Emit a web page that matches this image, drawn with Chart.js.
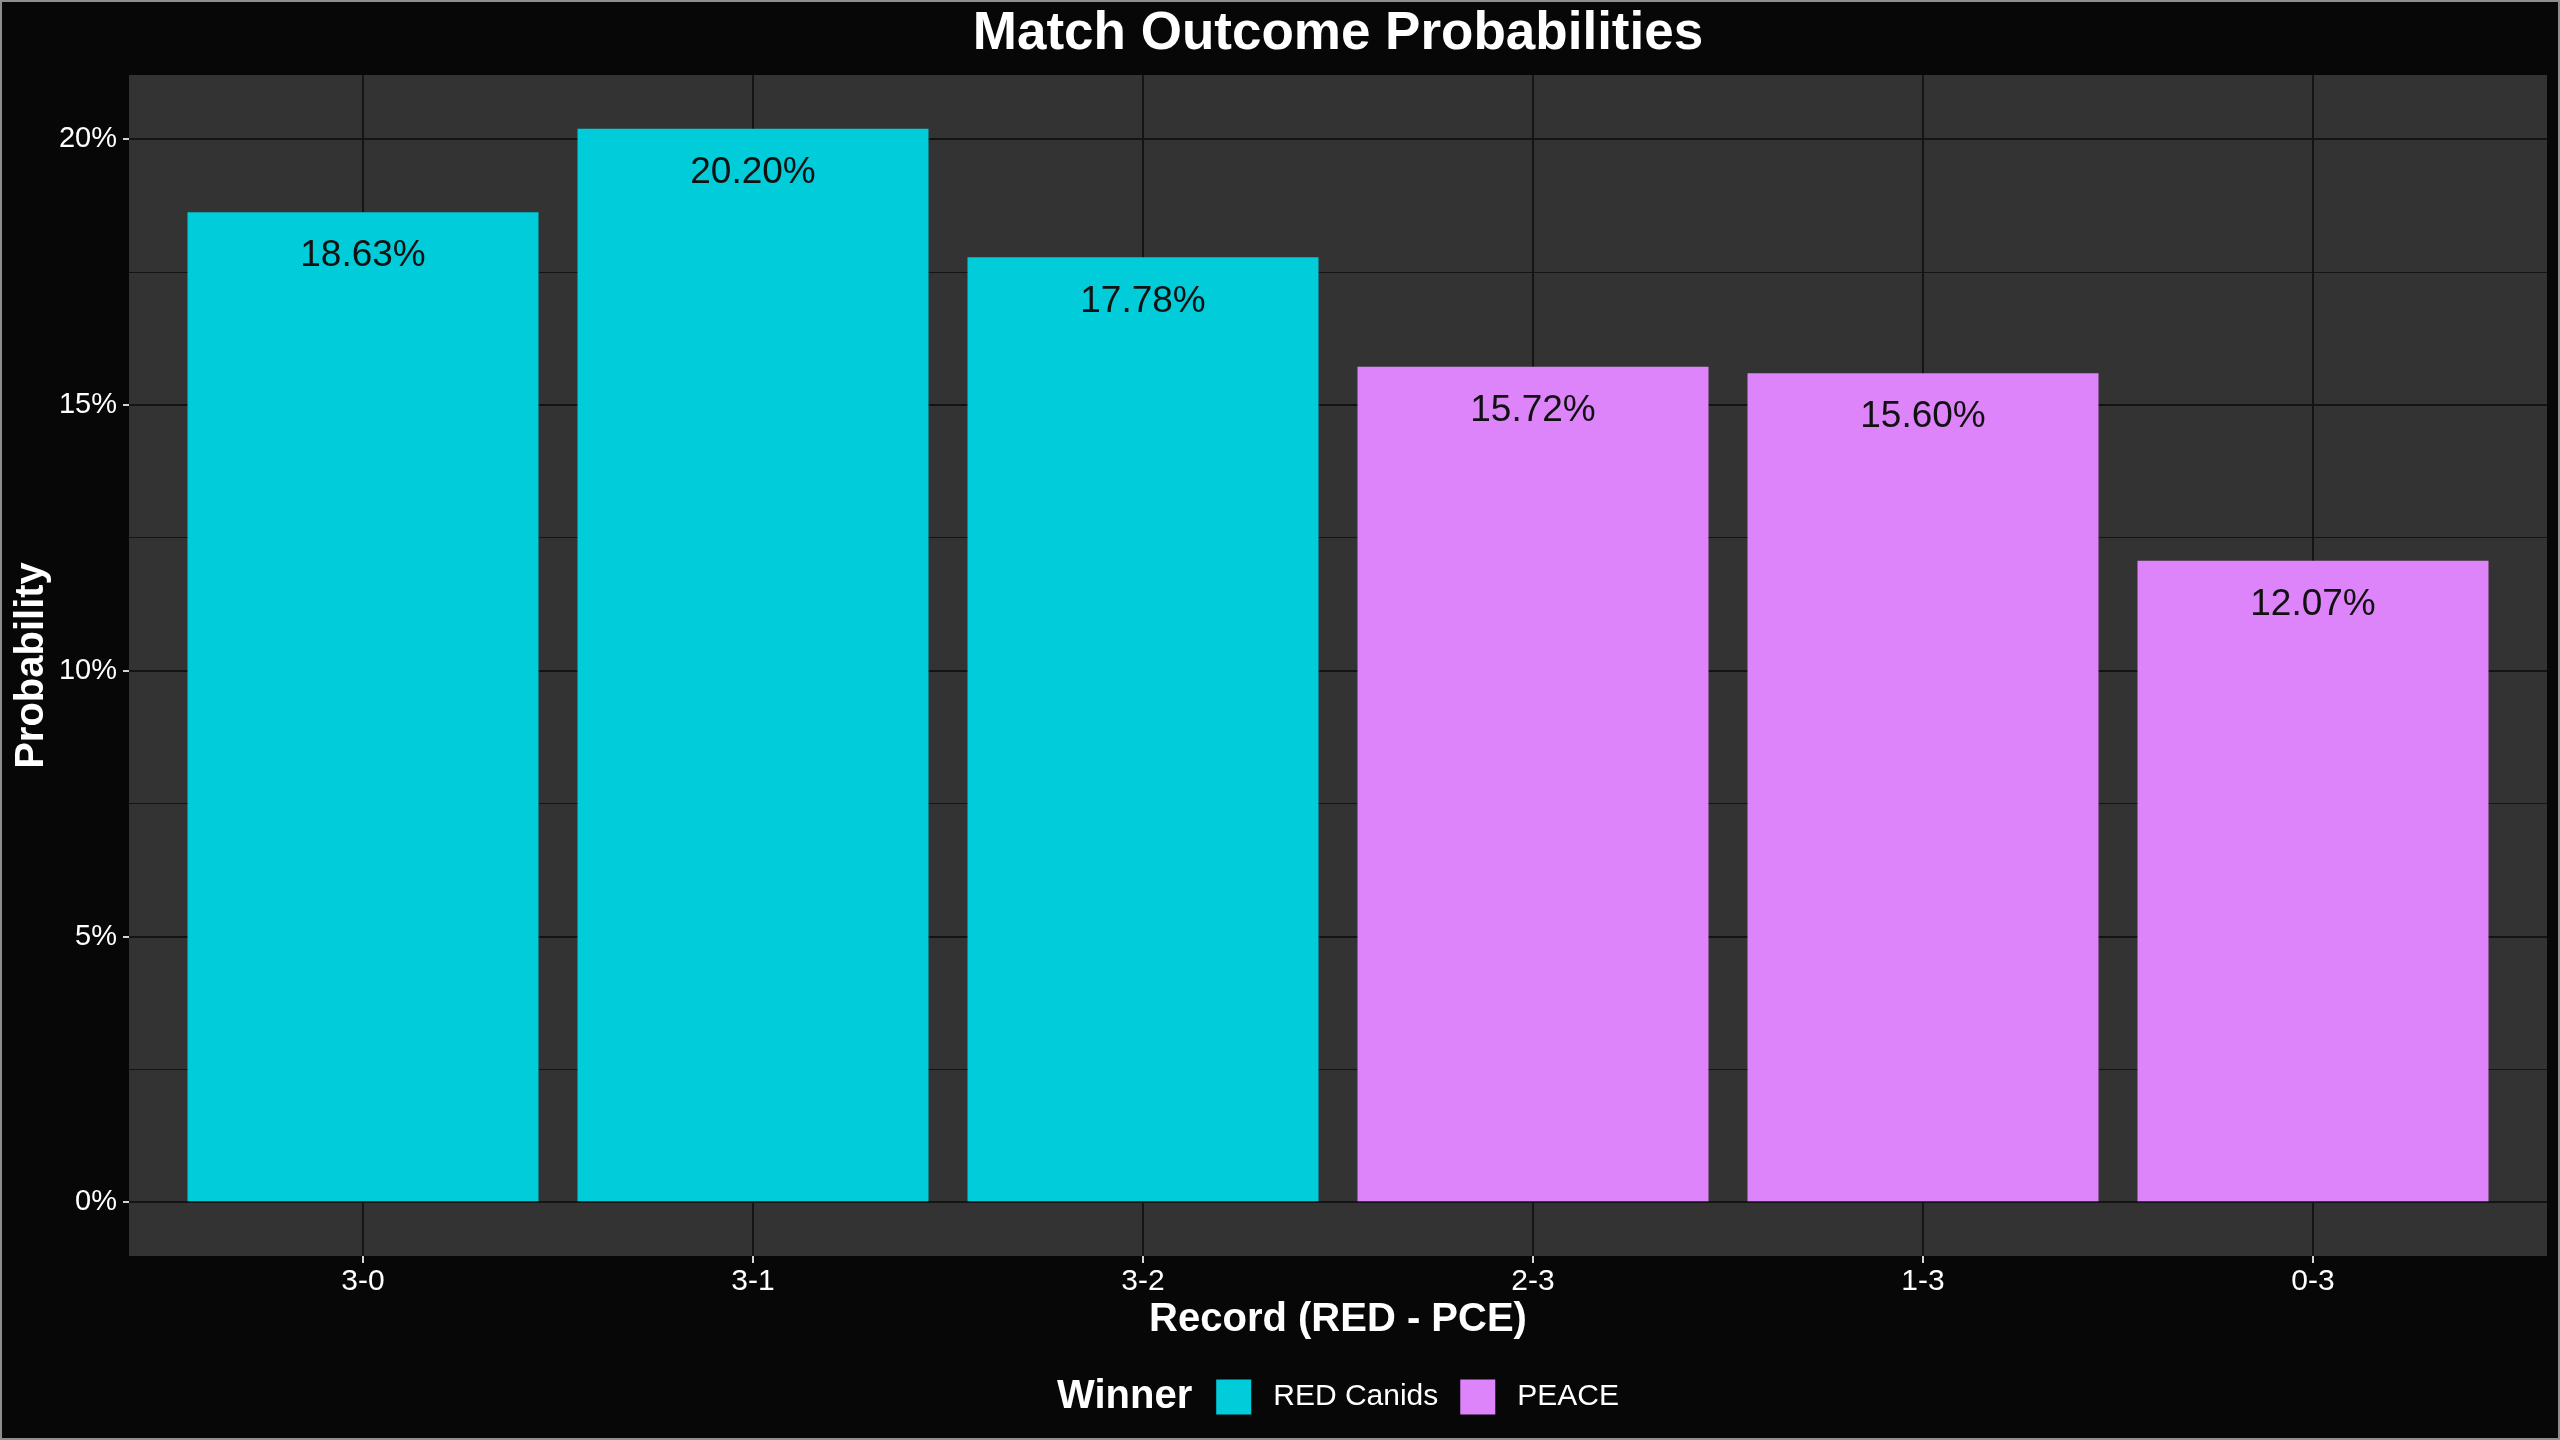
<!DOCTYPE html>
<html>
<head>
<meta charset="utf-8">
<script src="https://cdn.jsdelivr.net/npm/chart.js@4/dist/chart.umd.min.js"></script>
<style>
  html, body { margin: 0; padding: 0; background: #070707; }
  #wrap { width: 2560px; height: 1440px; }
</style>
</head>
<body>
<div id="wrap"><canvas id="c" width="2560" height="1440"></canvas></div>
<script>
// ---- Data ----
const categories = ['3-0', '3-1', '3-2', '2-3', '1-3', '0-3'];
const probabilities = [18.63, 20.20, 17.78, 15.72, 15.60, 12.07];
const winners = ['RED Canids', 'RED Canids', 'RED Canids', 'PEACE', 'PEACE', 'PEACE'];
const winnerLevels = ['RED Canids', 'PEACE'];
const yTickValues = [0, 2.5, 5, 7.5, 10, 12.5, 15, 17.5, 20];
const yLabelValues = [0, 5, 10, 15, 20];

// ---- Styles ----
const winnerColors = { 'RED Canids': '#00CCDA', 'PEACE': '#DD84FA' };
const FONT = '"Liberation Sans", Arial, Helvetica, sans-serif';
const PANEL_BG = '#333333';
const GRID = '#141414';
const TICK = '#d4d4d4';
const TEXT = '#ffffff';

const yMax = Math.max(...probabilities);
const yExpand = yMax * 0.05;

const bgPlugin = {
  id: 'bg',
  beforeDraw(chart) {
    const { ctx, chartArea: a } = chart;
    ctx.save();
    ctx.fillStyle = '#070707';
    ctx.fillRect(0, 0, chart.width, chart.height);
    ctx.fillStyle = PANEL_BG;
    ctx.fillRect(a.left, a.top, a.right - a.left, a.bottom - a.top);
    ctx.restore();
  },
  afterDraw(chart) {
    const { ctx, chartArea: a } = chart;
    const cx = (a.left + a.right) / 2;
    ctx.save();
    // bar value labels
    const meta = chart.getDatasetMeta(0);
    ctx.fillStyle = '#111111';
    ctx.font = '37px ' + FONT;
    ctx.textAlign = 'center';
    ctx.textBaseline = 'middle';
    meta.data.forEach((bar, i) => {
      ctx.fillText(probabilities[i].toFixed(2) + '%', bar.x, bar.y + 44);
    });
    // title
    ctx.fillStyle = TEXT;
    ctx.font = 'bold 53px ' + FONT;
    ctx.fillText('Match Outcome Probabilities', cx, 34);
    // x axis title
    ctx.font = 'bold 40px ' + FONT;
    ctx.fillText('Record (RED - PCE)', cx, 1320);
    // y axis title
    ctx.save();
    ctx.translate(32, (a.top + a.bottom) / 2);
    ctx.rotate(-Math.PI / 2);
    ctx.fillText('Probability', 0, 0);
    ctx.restore();
    // legend
    const ly = 1397;
    const key = 35;
    ctx.font = 'bold 40px ' + FONT;
    const titleW = ctx.measureText('Winner').width;
    ctx.font = '30px ' + FONT;
    const labW = winnerLevels.map(l => ctx.measureText(l).width);
    let total = titleW + 24;
    winnerLevels.forEach((l, i) => { total += key + 22 + labW[i] + (i < winnerLevels.length - 1 ? 22 : 0); });
    let x = cx - total / 2;
    ctx.textAlign = 'left';
    ctx.font = 'bold 40px ' + FONT;
    ctx.fillText('Winner', x, ly);
    x += titleW + 24;
    ctx.font = '30px ' + FONT;
    winnerLevels.forEach((l, i) => {
      ctx.fillStyle = winnerColors[l];
      ctx.fillRect(x, ly - key / 2, key, key);
      x += key + 22;
      ctx.fillStyle = TEXT;
      ctx.fillText(l, x, ly);
      x += labW[i] + 22;
    });
    // frame
    ctx.strokeStyle = '#8e8e8e';
    ctx.lineWidth = 2;
    ctx.strokeRect(1, 1, chart.width - 2, chart.height - 2);
    ctx.restore();
  }
};

new Chart(document.getElementById('c'), {
  type: 'bar',
  data: {
    datasets: [{
      label: 'Probability',
      data: probabilities.map((v, i) => ({ x: i, y: v })),
      backgroundColor: winners.map(w => winnerColors[w]),
      borderWidth: 0,
      barPercentage: 0.9,
      categoryPercentage: 1.0
    }]
  },
  options: {
    responsive: false,
    animation: false,
    devicePixelRatio: 1,
    layout: { padding: { left: 0, top: 75, right: 13, bottom: 0 } },
    plugins: { legend: { display: false }, title: { display: false }, tooltip: { enabled: false } },
    scales: {
      x: {
        type: 'linear',
        min: -0.6,
        max: categories.length - 0.4,
        offset: false,
        afterBuildTicks(scale) { scale.ticks = categories.map((c, i) => ({ value: i })); },
        afterFit(scale) { scale.height = 184; },
        ticks: {
          color: TEXT,
          font: { family: FONT, size: 30 },
          padding: 1,
          maxRotation: 0,
          autoSkip: false,
          callback: (v) => categories[v] ?? ''
        },
        grid: { offset: false, color: GRID, lineWidth: 2, drawTicks: true, tickLength: 7, tickColor: TICK, tickWidth: 2 },
        border: { display: false }
      },
      y: {
        min: -yExpand,
        max: yMax + yExpand,
        afterBuildTicks(scale) { scale.ticks = yTickValues.map(v => ({ value: v })); },
        afterFit(scale) { scale.width = 129; },
        ticks: {
          color: TEXT,
          font: { family: FONT, size: 29 },
          padding: 6,
          autoSkip: false,
          callback: (v) => yLabelValues.includes(v) ? v + '%' : ''
        },
        grid: {
          color: GRID,
          lineWidth: (c) => yLabelValues.includes(c.tick.value) ? 2 : 1,
          drawTicks: true,
          tickLength: 6,
          tickWidth: 2,
          tickColor: (c) => yLabelValues.includes(c.tick.value) ? TICK : 'rgba(0,0,0,0)'
        },
        border: { display: false }
      }
    }
  },
  plugins: [bgPlugin]
});
</script>
</body>
</html>
